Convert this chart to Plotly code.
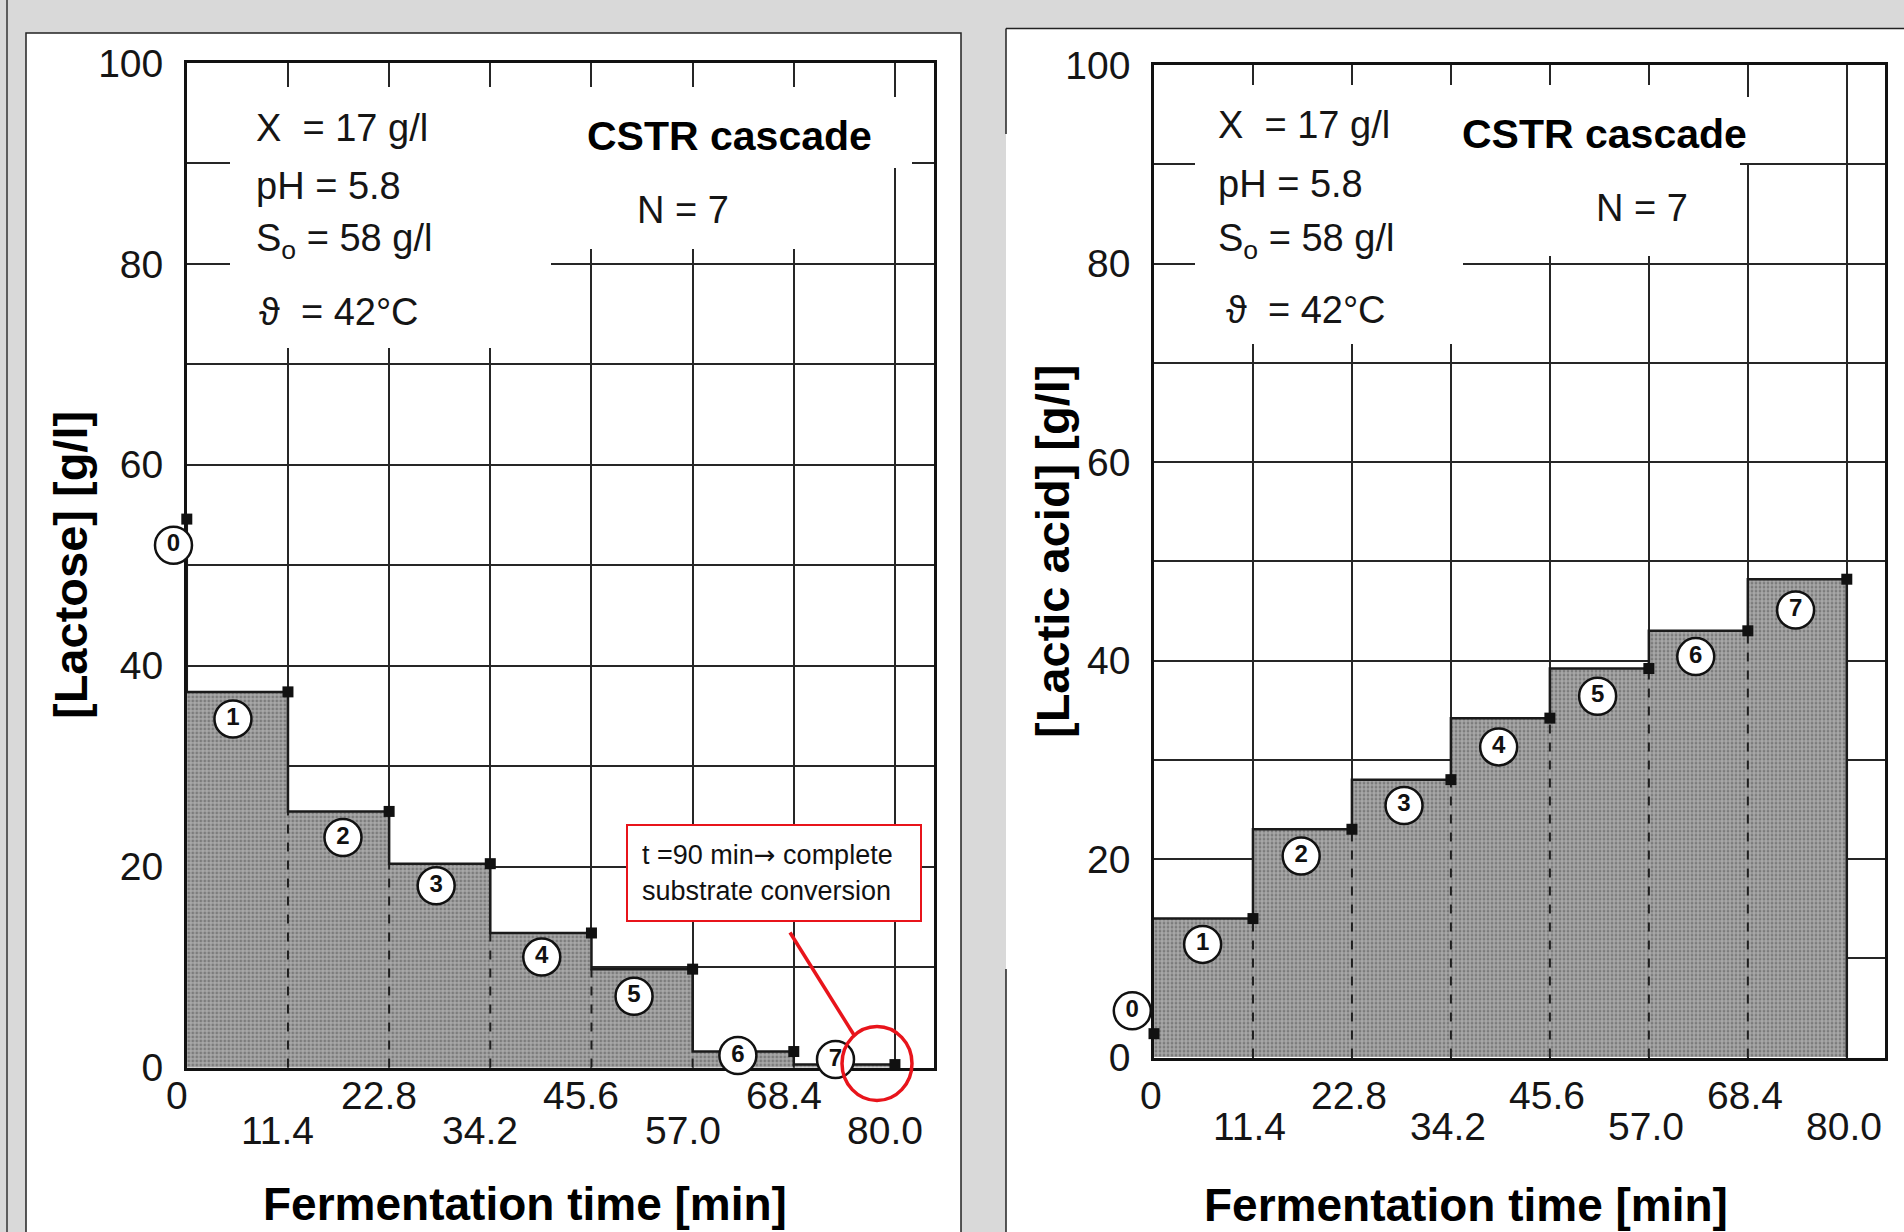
import plotly.graph_objects as go

W, H = 1904, 1232

# ---------------- data ----------------
stage_edges = [0, 11.4, 22.8, 34.2, 45.6, 57.0, 68.4, 79.8]
x_tick_text = ["0", "11.4", "22.8", "34.2", "45.6", "57.0", "68.4", "80.0"]
y_tick_vals = [0, 20, 40, 60, 80, 100]
y_tick_text = ["0", "20", "40", "60", "80", "100"]
y_minor_step = 10

lactose_feed = 54.6
lactose_stage = [37.4, 25.5, 20.3, 13.4, 9.8, 1.6, 0.3]
lactic_feed = 2.4
lactic_stage = [14.0, 23.0, 28.0, 34.2, 39.2, 43.0, 48.2]

stage_names = ["0", "1", "2", "3", "4", "5", "6", "7"]
lactose_label_x = [-1.5, 5.2, 17.6, 28.1, 40.0, 50.4, 62.1, 73.1]
lactose_label_y = [52.0, 34.7, 22.9, 18.1, 11.0, 7.1, 1.2, 0.8]
lactic_label_x = [-2.5, 5.6, 16.95, 28.8, 39.7, 51.1, 62.4, 73.9]
lactic_label_y = [4.7, 11.4, 20.3, 25.4, 31.3, 36.4, 40.4, 45.1]

param_lines = ["X  = 17 g/l", "pH = 5.8", "S<sub>o</sub> = 58 g/l", "\u03d1  = 42\u00b0C"]

X_MAX = 84.2
X_EXT = 5.0   # extra room to the left for the circled "0" labels

FONT = "Liberation Sans, Arial, Helvetica, sans-serif"
GRID = "#262626"


def px(x):
    return x / W


def py(y):
    return 1 - y / H


fig = go.Figure()
shapes = []
annotations = []

# page panels
shapes.append(dict(type="line", xref="paper", yref="paper", x0=px(7), x1=px(7), y0=py(0), y1=py(1240),
                   line=dict(color="#333", width=1.5), layer="below"))
shapes.append(dict(type="rect", xref="paper", yref="paper", x0=px(26), x1=px(961), y0=py(33), y1=py(1245),
                   fillcolor="white", line=dict(color="#222", width=1.5), layer="below"))
shapes.append(dict(type="rect", xref="paper", yref="paper", x0=px(1006), x1=px(1920), y0=py(28.5), y1=py(1245),
                   fillcolor="white", line=dict(width=0), layer="below"))
for (a, b) in [((1006, 28.5), (1920, 28.5)), ((1006, 28.5), (1006, 134)), ((1006, 969), (1006, 1240))]:
    shapes.append(dict(type="line", xref="paper", yref="paper", x0=px(a[0]), y0=py(a[1]), x1=px(b[0]), y1=py(b[1]),
                       line=dict(color="#222", width=1.5), layer="below"))


def axkey(k, n):
    return k if n == 1 else "%s%d" % (k, n)


def add_panel(idx, lab_idx, feed, stage, lab_x, lab_y, xpx, ypx, ytitle, ytitle_pos, xtitle_pos,
              covers, params_left, params_y, cstr_pos, n_pos, xlab_shift, xrow_off, drop_left):
    xa = "x" if idx == 1 else "x%d" % idx
    ya = "y" if idx == 1 else "y%d" % idx
    xl = "x%d" % lab_idx
    yl = "y%d" % lab_idx
    xdom = [px(xpx[0]), px(xpx[1])]
    ydom = [py(ypx[1]), py(ypx[0])]
    scale = (xpx[1] - xpx[0]) / X_MAX
    xdom_ext = [px(xpx[0] - scale * X_EXT), px(xpx[1])]

    centers = [(stage_edges[i] + stage_edges[i + 1]) / 2 for i in range(7)]
    widths = [stage_edges[i + 1] - stage_edges[i] for i in range(7)]
    fig.add_trace(go.Bar(x=centers, y=stage, width=widths, xaxis=xa, yaxis=ya,
                         marker=dict(color="#9a9a9a", line=dict(width=0),
                                     pattern=dict(shape=".", fgcolor="#505050", bgcolor="#a8a8a8",
                                                  size=4, solidity=0.4)),
                         showlegend=False, hoverinfo="skip"))
    # dashed stage boundaries inside the fill
    dx, dy = [], []
    for i in range(1, 7):
        dx += [stage_edges[i], stage_edges[i], None]
        dy += [0, min(stage[i - 1], stage[i]), None]
    fig.add_trace(go.Scatter(x=dx, y=dy, xaxis=xa, yaxis=ya, mode="lines",
                             line=dict(color="#1e1e1e", width=2, dash="dash"), showlegend=False, hoverinfo="skip"))
    # step outline
    sx, sy = [], []
    if drop_left:
        sx.append(0)
        sy.append(feed)
    sx += stage_edges[:7] + [stage_edges[7], stage_edges[7]]
    sy += stage + [stage[-1], 0]
    fig.add_trace(go.Scatter(x=sx, y=sy, xaxis=xa, yaxis=ya, mode="lines", line_shape="hv",
                             line=dict(color="#1a1a1a", width=2.5), showlegend=False, hoverinfo="skip"))
    # measured points
    fig.add_trace(go.Scatter(x=[0] + stage_edges[1:], y=[feed] + stage, xaxis=xa, yaxis=ya, mode="markers",
                             marker=dict(symbol="square", size=11, color="#111"), cliponaxis=False,
                             showlegend=False, hoverinfo="skip"))
    # circled stage numbers (on an overlay subplot with the same scale, extended left)
    fig.add_trace(go.Scatter(x=lab_x, y=lab_y, xaxis=xl, yaxis=yl, mode="markers+text", text=stage_names,
                             textposition="middle center",
                             textfont=dict(family=FONT, size=24, color="#111", weight="bold"),
                             marker=dict(symbol="circle", size=37, color="white", line=dict(color="#111", width=2.5)),
                             cliponaxis=False, showlegend=False, hoverinfo="skip"))

    ax = dict(domain=xdom, range=[0, X_MAX], tickvals=stage_edges, showticklabels=False, ticks="",
              showgrid=True, gridcolor=GRID, gridwidth=2, showline=True, mirror=True,
              linecolor="#111", linewidth=2.5, zeroline=False, anchor=ya, automargin=False)
    ay = dict(domain=ydom, range=[0, 100], tickvals=y_tick_vals, ticktext=y_tick_text, ticks="",
              showgrid=True, gridcolor=GRID, gridwidth=2, showline=True, mirror=True,
              linecolor="#111", linewidth=2.5, zeroline=False, anchor=xa, automargin=False,
              minor=dict(tick0=0, dtick=y_minor_step, showgrid=True, gridcolor=GRID, gridwidth=2, ticks=""),
              tickfont=dict(family=FONT, size=39, color="#151515"), ticklabelstandoff=13)
    axl = dict(domain=xdom_ext, range=[-X_EXT, X_MAX], visible=False, showgrid=False, zeroline=False,
               anchor=yl, automargin=False, fixedrange=True)
    ayl = dict(domain=ydom, range=[0, 100], visible=False, showgrid=False, zeroline=False,
               anchor=xl, automargin=False, fixedrange=True)
    fig.update_layout(**{axkey("xaxis", idx): ax, axkey("yaxis", idx): ay,
                         axkey("xaxis", lab_idx): axl, axkey("yaxis", lab_idx): ayl})

    # x tick labels in two staggered rows
    for i, (v, t) in enumerate(zip(stage_edges, x_tick_text)):
        off = xrow_off[0] if i % 2 == 0 else xrow_off[1]
        annotations.append(dict(x=v, xref=xa, y=py(ypx[1] + off), yref="paper", text=t, showarrow=False,
                                xshift=xlab_shift, xanchor="center", yanchor="middle",
                                font=dict(family=FONT, size=39, color="#151515")))
    # white masks over the grid behind the texts
    for (x0, y0, x1, y1) in covers:
        shapes.append(dict(type="rect", xref="paper", yref="paper", x0=px(x0), x1=px(x1), y0=py(y0), y1=py(y1),
                           fillcolor="white", line=dict(width=0), layer="above"))
    for j, t in enumerate(param_lines):
        annotations.append(dict(x=px(params_left[j]), y=py(params_y[j]), xref="paper", yref="paper", text=t,
                                showarrow=False, xanchor="left", yanchor="middle",
                                font=dict(family=FONT, size=38, color="#151515")))
    annotations.append(dict(x=px(cstr_pos[0]), y=py(cstr_pos[1]), xref="paper", yref="paper", text="<b>CSTR cascade</b>",
                            showarrow=False, xanchor="center", yanchor="middle",
                            font=dict(family=FONT, size=41, color="black")))
    annotations.append(dict(x=px(n_pos[0]), y=py(n_pos[1]), xref="paper", yref="paper", text="N = 7",
                            showarrow=False, xanchor="center", yanchor="middle",
                            font=dict(family=FONT, size=38, color="#151515")))
    annotations.append(dict(x=px(ytitle_pos[0]), y=py(ytitle_pos[1]), xref="paper", yref="paper",
                            text="<b>%s</b>" % ytitle, textangle=-90, showarrow=False,
                            xanchor="center", yanchor="middle", font=dict(family=FONT, size=47, color="black")))
    annotations.append(dict(x=px(xtitle_pos[0]), y=py(xtitle_pos[1]), xref="paper", yref="paper",
                            text="<b>Fermentation time [min]</b>", showarrow=False,
                            xanchor="center", yanchor="middle", font=dict(family=FONT, size=46, color="black")))


add_panel(1, 3, lactose_feed, lactose_stage, lactose_label_x, lactose_label_y,
          xpx=(186.8, 934), ypx=(63, 1067.6),
          ytitle="[Lactose] [g/l]", ytitle_pos=(70, 565), xtitle_pos=(525, 1204),
          covers=[(230, 87, 551, 348), (551, 97, 912, 168), (551, 87, 890, 249)],
          params_left=[254, 254, 254, 257], params_y=[128, 186, 241, 312],
          cstr_pos=(729, 136), n_pos=(683, 209.5), xlab_shift=-10, xrow_off=(28, 63),
          drop_left=True)

add_panel(2, 4, lactic_feed, lactic_stage, lactic_label_x, lactic_label_y,
          xpx=(1154, 1885), ypx=(65.2, 1057.5),
          ytitle="[Lactic acid] [g/l]", ytitle_pos=(1052, 552), xtitle_pos=(1466, 1205),
          covers=[(1195, 85, 1463, 344), (1463, 97, 1787, 163), (1463, 85, 1740, 256)],
          params_left=[1216, 1216, 1216, 1224], params_y=[124.6, 183.9, 241, 310.4],
          cstr_pos=(1604.5, 134.4), n_pos=(1641.5, 207.6), xlab_shift=-3, xrow_off=(38, 69),
          drop_left=False)

# red callout
annotations.append(dict(x=px(774), y=py(873), xref="paper", yref="paper",
                        text="t =90 min<span style=\"font-family:'DejaVu Sans';font-size:26px\">\u2192</span> complete<br>substrate conversion",
                        showarrow=False, xanchor="center", yanchor="middle", align="left",
                        width=264, height=66, borderpad=14, bordercolor="#e8141b", borderwidth=2,
                        bgcolor="white", font=dict(family=FONT, size=27, color="#111")))
shapes.append(dict(type="line", xref="paper", yref="paper", x0=px(790), y0=py(932.5), x1=px(854), y1=py(1035),
                   line=dict(color="#e8141b", width=3.5), layer="above"))
shapes.append(dict(type="circle", xref="paper", yref="paper", x0=px(842), x1=px(912), y0=py(1026.5), y1=py(1100.5),
                   line=dict(color="#e8141b", width=3.5), layer="above"))

fig.update_layout(width=W, height=H, margin=dict(l=0, r=0, t=0, b=0, autoexpand=False),
                  paper_bgcolor="#d9d9d9", plot_bgcolor="rgba(0,0,0,0)", bargap=0,
                  shapes=shapes, annotations=annotations, showlegend=False,
                  font=dict(family=FONT))

fig.write_html("out.html", config={"displayModeBar": False},
               post_script="document.body.style.margin='0';document.body.style.padding='0';"
                           "document.body.style.overflow='hidden';")
